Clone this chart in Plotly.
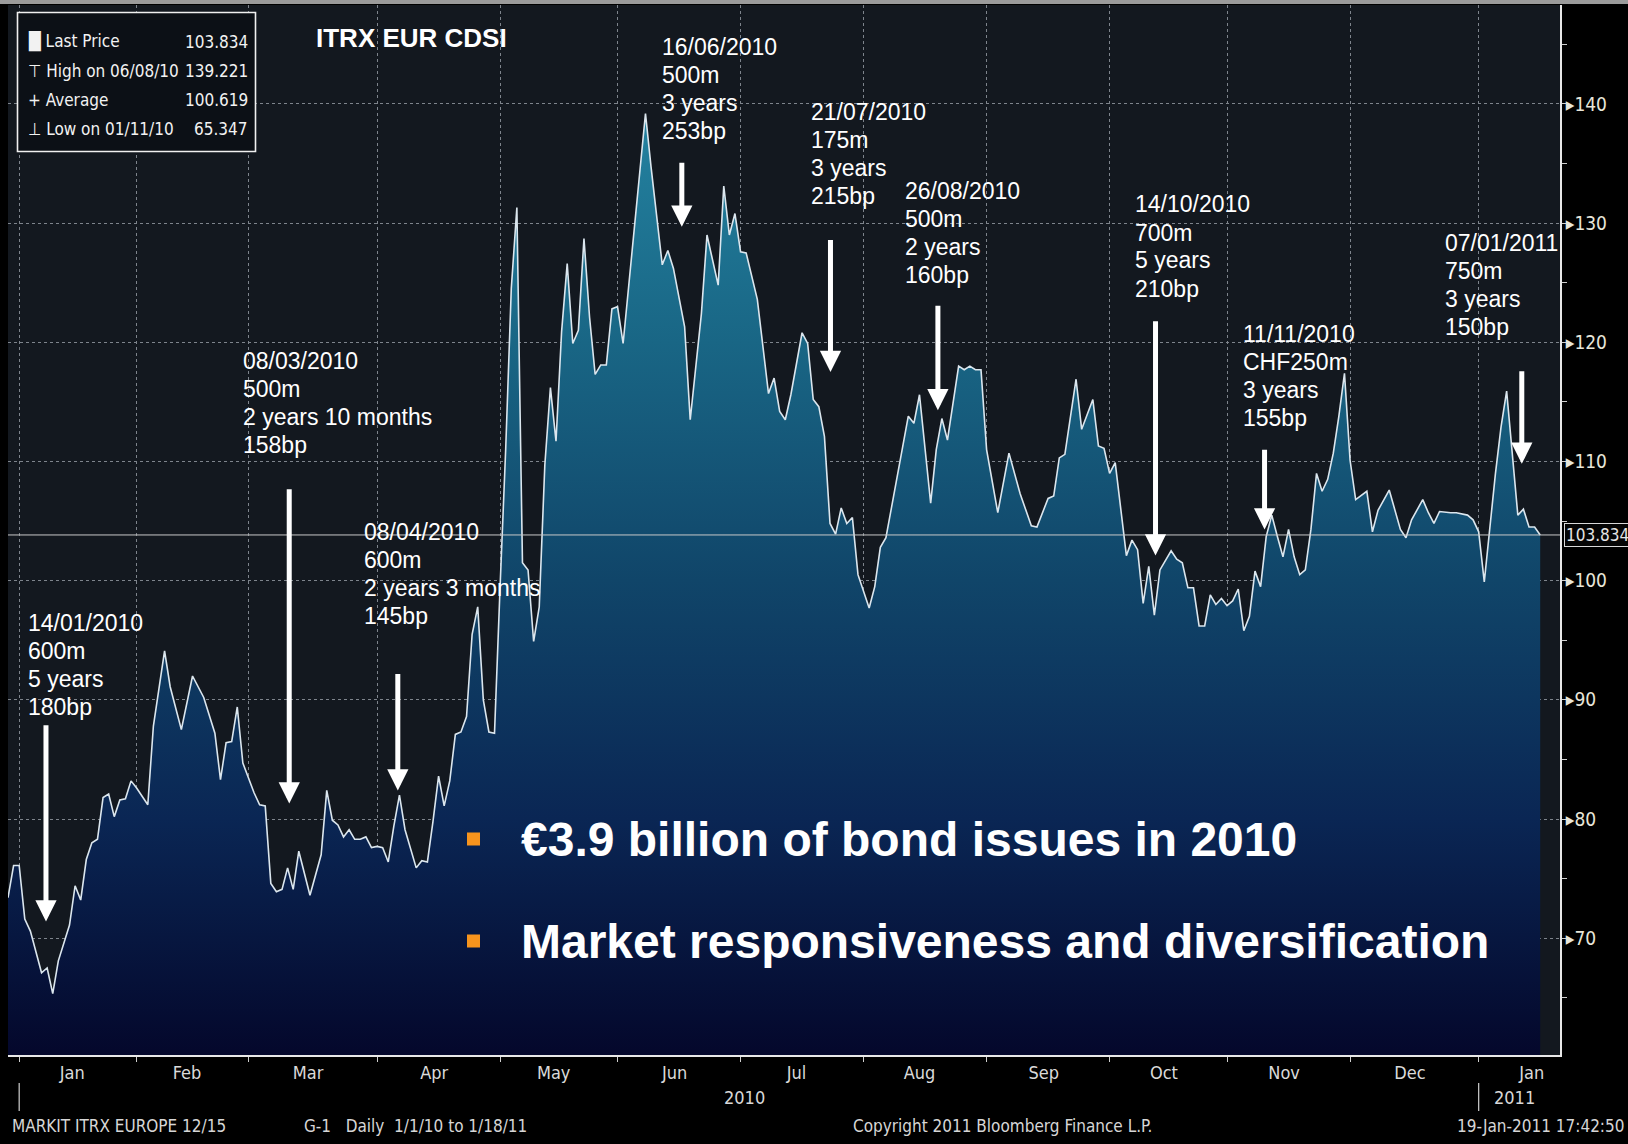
import plotly.graph_objects as go

# ---------------- data ----------------
dates = [
    "2009-12-30", "2009-12-31", "2010-01-01", "2010-01-04", "2010-01-05", "2010-01-07", "2010-01-08",
    "2010-01-11", "2010-01-12", "2010-01-14", "2010-01-15", "2010-01-18", "2010-01-19", "2010-01-20",
    "2010-01-21", "2010-01-22", "2010-01-25", "2010-01-26", "2010-01-27", "2010-01-28", "2010-01-29",
    "2010-02-01", "2010-02-03", "2010-02-04", "2010-02-08", "2010-02-09", "2010-02-11", "2010-02-15",
    "2010-02-17", "2010-02-19", "2010-02-22", "2010-02-23", "2010-02-24", "2010-02-25", "2010-02-26",
    "2010-03-02", "2010-03-03", "2010-03-04", "2010-03-05", "2010-03-08", "2010-03-09", "2010-03-10",
    "2010-03-11", "2010-03-12", "2010-03-16", "2010-03-18", "2010-03-19", "2010-03-22", "2010-03-23",
    "2010-03-24", "2010-03-25", "2010-03-26", "2010-03-29", "2010-03-30", "2010-03-31", "2010-04-01",
    "2010-04-02", "2010-04-05", "2010-04-06", "2010-04-07", "2010-04-08", "2010-04-09", "2010-04-12",
    "2010-04-13", "2010-04-14", "2010-04-15", "2010-04-16", "2010-04-19", "2010-04-20", "2010-04-21",
    "2010-04-22", "2010-04-23", "2010-04-26", "2010-04-27", "2010-04-28", "2010-04-29", "2010-04-30",
    "2010-05-03", "2010-05-04", "2010-05-05", "2010-05-06", "2010-05-07", "2010-05-10", "2010-05-11",
    "2010-05-12", "2010-05-13", "2010-05-14", "2010-05-17", "2010-05-18", "2010-05-19", "2010-05-20",
    "2010-05-21", "2010-05-24", "2010-05-25", "2010-05-26", "2010-05-27", "2010-05-28", "2010-05-31",
    "2010-06-01", "2010-06-02", "2010-06-04", "2010-06-08", "2010-06-09", "2010-06-10", "2010-06-11",
    "2010-06-14", "2010-06-15", "2010-06-17", "2010-06-18", "2010-06-22", "2010-06-23", "2010-06-25",
    "2010-06-28", "2010-06-29", "2010-06-30", "2010-07-01", "2010-07-02", "2010-07-06", "2010-07-08",
    "2010-07-09", "2010-07-12", "2010-07-13", "2010-07-14", "2010-07-16", "2010-07-19", "2010-07-20",
    "2010-07-21", "2010-07-22", "2010-07-23", "2010-07-26", "2010-07-27", "2010-07-28", "2010-07-29",
    "2010-07-30", "2010-08-03", "2010-08-04", "2010-08-05", "2010-08-06", "2010-08-11", "2010-08-12",
    "2010-08-13", "2010-08-16", "2010-08-18", "2010-08-19", "2010-08-20", "2010-08-23", "2010-08-25",
    "2010-08-26", "2010-08-27", "2010-08-30", "2010-08-31", "2010-09-01", "2010-09-03", "2010-09-07",
    "2010-09-09", "2010-09-13", "2010-09-14", "2010-09-16", "2010-09-17", "2010-09-20", "2010-09-21",
    "2010-09-23", "2010-09-24", "2010-09-28", "2010-09-29", "2010-09-30", "2010-10-01", "2010-10-04",
    "2010-10-06", "2010-10-07", "2010-10-08", "2010-10-11", "2010-10-12", "2010-10-13", "2010-10-14",
    "2010-10-18", "2010-10-19", "2010-10-20", "2010-10-21", "2010-10-22", "2010-10-25", "2010-10-26",
    "2010-10-27", "2010-10-28", "2010-10-29", "2010-11-01", "2010-11-02", "2010-11-03", "2010-11-04",
    "2010-11-05", "2010-11-08", "2010-11-09", "2010-11-10", "2010-11-11", "2010-11-12", "2010-11-15",
    "2010-11-16", "2010-11-17", "2010-11-18", "2010-11-19", "2010-11-22", "2010-11-23", "2010-11-24",
    "2010-11-25", "2010-11-26", "2010-11-29", "2010-11-30", "2010-12-01", "2010-12-02", "2010-12-06",
    "2010-12-07", "2010-12-08", "2010-12-10", "2010-12-14", "2010-12-15", "2010-12-16", "2010-12-20",
    "2010-12-21", "2010-12-22", "2010-12-23", "2010-12-27", "2010-12-28", "2010-12-30", "2010-12-31",
    "2011-01-03", "2011-01-04", "2011-01-06", "2011-01-07", "2011-01-10", "2011-01-11", "2011-01-12",
    "2011-01-13", "2011-01-14", "2011-01-17", "2011-01-18",
]
values = [
    73.4, 76.1, 76.1, 71.6, 70.6, 67.1, 67.5,
    65.35, 68.1, 71.1, 74.4, 73.2, 76.6, 78.0,
    78.3, 81.8, 82.1, 80.2, 81.6, 81.7, 83.2,
    82.6, 81.2, 87.8, 94.1, 91.1, 87.5, 92.0,
    90.2, 87.2, 83.3, 86.4, 86.5, 89.4, 84.7,
    82.2, 81.2, 81.1, 74.6, 73.9, 74.1, 75.9,
    74.1, 77.3, 73.6, 77.0, 82.4, 79.9, 79.5,
    78.5, 79.1, 78.3, 78.3, 78.5, 77.6, 77.7,
    77.6, 76.4, 79.4, 82.0, 79.1, 77.6, 75.9,
    76.5, 76.4, 79.8, 83.6, 81.1, 83.2, 87.1,
    87.3, 88.6, 95.5, 97.8, 90.0, 87.3, 87.2,
    99.5, 111.0, 124.5, 131.3, 101.5, 100.9, 94.9,
    97.8, 109.7, 116.2, 111.7, 120.9, 126.6, 119.9,
    121.0, 128.7, 122.1, 117.3, 118.1, 118.1, 122.8,
    123.0, 119.9, 129.5, 139.2, 134.7, 130.8, 126.5,
    127.7, 126.2, 121.3, 113.5, 122.4, 129.0, 124.8,
    133.1, 129.0, 130.8, 127.6, 127.5, 123.6, 115.7,
    117.0, 114.2, 113.5, 115.6, 120.8, 119.9, 115.2,
    114.6, 112.1, 104.8, 103.9, 106.1, 104.8, 105.3,
    100.5, 97.7, 99.5, 102.8, 103.6, 111.5, 113.8,
    113.2, 115.6, 106.5, 111.0, 113.6, 111.8, 118.0,
    117.7, 118.0, 117.7, 117.7, 111.0, 105.7, 110.7,
    107.3, 104.6, 104.5, 106.9, 107.1, 110.3, 110.6,
    116.9, 112.7, 115.2, 111.3, 111.1, 109.0, 109.9,
    102.1, 103.4, 102.6, 98.1, 101.2, 97.1, 100.9,
    102.5, 101.8, 101.5, 99.4, 99.4, 96.2, 96.2,
    98.8, 98.0, 98.5, 97.9, 98.3, 99.3, 95.8,
    97.0, 100.8, 99.5, 103.7, 105.5, 103.7, 102.0,
    104.3, 102.0, 100.5, 100.9, 104.3, 109.0, 107.5,
    108.5, 110.7, 113.8, 117.4, 110.1, 106.8, 107.5,
    104.1, 105.9, 107.6, 104.3, 103.6, 105.1, 106.8,
    105.7, 104.8, 105.8, 105.7, 105.7, 105.5, 105.1,
    104.1, 99.9, 109.0, 112.9, 115.9, 110.7, 105.5,
    106.0, 104.5, 104.5, 103.834,
]

month_starts = ["2010-01-01", "2010-02-01", "2010-03-01", "2010-04-01", "2010-05-03", "2010-06-01",
                "2010-07-01", "2010-08-02", "2010-09-01", "2010-10-01", "2010-11-01", "2010-12-01",
                "2011-01-03"]
month_label_dates = ["2010-01-14 12:00", "2010-02-12", "2010-03-15 16:00", "2010-04-15 05:00",
                     "2010-05-14 14:00", "2010-06-15 05:00", "2010-07-15", "2010-08-16",
                     "2010-09-15 05:00", "2010-10-14 17:00", "2010-11-15 05:00", "2010-12-15 17:00",
                     "2011-01-14 12:00"]
month_labels = ["Jan", "Feb", "Mar", "Apr", "May", "Jun", "Jul", "Aug", "Sep", "Oct", "Nov", "Dec", "Jan"]
year_labels = ["2010", "2011"]
year_label_dates = ["2010-07-01 16:00", "2011-01-11 10:00"]
year_starts = ["2010-01-01", "2011-01-03"]

y_ticks = [70, 80, 90, 100, 110, 120, 130, 140]

legend_labels = ["\u2588 Last Price", "\u22a4 High on 06/08/10", "+ Average", "\u22a5 Low on 01/11/10"]
legend_values = ["103.834", "139.221", "100.619", "65.347"]

issue_texts = [
    ["14/01/2010", "600m", "5 years", "180bp"],
    ["08/03/2010", "500m", "2 years 10 months", "158bp"],
    ["08/04/2010", "600m", "2 years 3 months", "145bp"],
    ["16/06/2010", "500m", "3 years", "253bp"],
    ["21/07/2010", "175m", "3 years", "215bp"],
    ["26/08/2010", "500m", "2 years", "160bp"],
    ["14/10/2010", "700m", "5 years", "210bp"],
    ["11/11/2010", "CHF250m", "3 years", "155bp"],
    ["07/01/2011", "750m", "3 years", "150bp"],
]
arrow_dates = ["2010-01-07 19:00", "2010-03-10 07:00", "2010-04-06 17:00", "2010-06-16 12:00",
               "2010-07-23 02:00", "2010-08-19 07:00", "2010-10-13 05:00", "2010-11-09 17:00",
               "2011-01-12 17:00"]
arrow_tail = [88.0, 107.8, 92.3, 135.2, 128.7, 123.2, 121.9, 111.1, 117.7]
arrow_head = [71.4, 81.3, 82.4, 129.7, 117.5, 114.3, 102.1, 104.3, 109.8]

bullets = ["\u20ac3.9 billion of bond issues in 2010", "Market responsiveness and diversification"]
title_text = "ITRX EUR CDSI"
footer_left = "MARKIT ITRX EUROPE 12/15"
footer_mid = "G-1   Daily  1/1/10 to 1/18/11"
footer_copy = "Copyright 2011 Bloomberg Finance L.P."
footer_right = "19-Jan-2011 17:42:50"

# ---------------- layout geometry ----------------
W, H = 1628, 1144
L, T, R, B = 8, 5, 68, 89
PW, PH = W - L - R, H - T - B


def px(x):
    return (x - L) / PW


def py(y):
    return (T + PH - y) / PH


NARROW = "Liberation Sans Narrow, DejaVu Sans Condensed, Arial Narrow, sans-serif"
ARIAL = "Liberation Sans, Arial, sans-serif"

fig = go.Figure()
fig.add_trace(go.Scatter(
    x=dates, y=values, mode="lines",
    line=dict(color="#dbe6ee", width=1.6),
    fill="tozeroy",
    fillgradient=dict(type="vertical", start=60, stop=140,
                      colorscale=[[0.0, "#04072b"], [0.25, "#0a2654"], [0.5, "#104569"],
                                  [0.75, "#196685"], [1.0, "#2483a1"]]),
    hoverinfo="skip", showlegend=False,
))

annotations = []
shapes = []

# title
annotations.append(dict(x=px(314), y=py(38), xref="paper", yref="paper", xanchor="left", yanchor="middle",
                        text="<b>" + title_text + "</b>", showarrow=False,
                        font=dict(family=ARIAL, size=26, color="white")))

# legend box
shapes.append(dict(type="rect", xref="paper", yref="paper", x0=px(17.5), x1=px(255.5), y0=py(151.5), y1=py(12.5),
                   fillcolor="#0c1016", line=dict(color="#f0f0f0", width=1.6), layer="above"))
for i, (lab, val) in enumerate(zip(legend_labels, legend_values)):
    yy = py(41.5 + 29.1 * i)
    annotations.append(dict(x=px(26), y=yy, xref="paper", yref="paper", xanchor="left", yanchor="middle",
                            text=lab, showarrow=False, font=dict(family=NARROW, size=17, color="#f2f2f2")))
    annotations.append(dict(x=px(250), y=yy, xref="paper", yref="paper", xanchor="right", yanchor="middle",
                            text=val, showarrow=False, font=dict(family=NARROW, size=17, color="#f2f2f2")))

# issue text blocks
block_pos = [(26, 623), (241, 361), (362, 532), (660, 47), (809, 112), (903, 191), (1133, 204.5),
             (1241, 334), (1443, 243)]
for lines, (bx, by) in zip(issue_texts, block_pos):
    for i, ln in enumerate(lines):
        annotations.append(dict(x=px(bx), y=py(by + 28 * i), xref="paper", yref="paper", xanchor="left",
                                yanchor="middle", text=ln, showarrow=False,
                                font=dict(family=ARIAL, size=23, color="white")))

# arrows
for d, yt, yh in zip(arrow_dates, arrow_tail, arrow_head):
    annotations.append(dict(x=d, y=yh, xref="x", yref="y", ax=d, ay=yt, axref="x", ayref="y",
                            text="", showarrow=True, arrowhead=2, arrowsize=0.85, arrowwidth=5,
                            arrowcolor="white", standoff=0))

# bullets
for txt, yc in zip(bullets, [839, 941]):
    shapes.append(dict(type="rect", xref="paper", yref="paper", x0=px(467), x1=px(480),
                       y0=py(yc + 6.5), y1=py(yc - 6.5), fillcolor="#f7941d", line=dict(width=0), layer="above"))
    annotations.append(dict(x=px(519), y=py(yc), xref="paper", yref="paper", xanchor="left", yanchor="middle",
                            text="<b>" + txt + "</b>", showarrow=False,
                            font=dict(family=ARIAL, size=48, color="white")))

# last price line + label
shapes.append(dict(type="line", xref="paper", yref="y", x0=0, x1=1, y0=values[-1], y1=values[-1],
                   line=dict(color="#c9c9c9", width=1), layer="above"))
annotations.append(dict(x=1, y=values[-1], xref="paper", yref="y", xanchor="left", yanchor="middle", xshift=4,
                        text=f"{values[-1]:.3f}", showarrow=False, bgcolor="#050505", bordercolor="#d8d8d8",
                        borderwidth=1, borderpad=1, font=dict(family=NARROW, size=17, color="#e6e6e6")))

# year labels / separators
for t, d in zip(year_labels, year_label_dates):
    annotations.append(dict(x=d, y=py(1097), xref="x", yref="paper", xanchor="center", yanchor="middle",
                            text=t, showarrow=False, font=dict(family=NARROW, size=18, color="#d8d8d8")))
for d in year_starts:
    shapes.append(dict(type="line", xref="x", yref="paper", x0=d, x1=d, y0=py(1083), y1=py(1111),
                       line=dict(color="#d0d0d0", width=1.2)))

# footer
for txt, x, anc in [(footer_left, 10, "left"), (footer_mid, 302, "left"), (footer_copy, 851, "left"),
                    (footer_right, 1626, "right")]:
    annotations.append(dict(x=px(x), y=py(1126), xref="paper", yref="paper", xanchor=anc, yanchor="middle",
                            text=txt, showarrow=False, font=dict(family=NARROW, size=17, color="#d6d6d6")))

# top grey band
shapes.append(dict(type="rect", xref="paper", yref="paper", x0=px(0), x1=px(W), y0=py(4), y1=py(0),
                   fillcolor="#9b9b9b", line=dict(width=0)))

fig.update_layout(
    width=W, height=H,
    margin=dict(l=L, r=R, t=T, b=B),
    paper_bgcolor="#000000", plot_bgcolor="#13181f",
    showlegend=False, hovermode=False,
    annotations=annotations, shapes=shapes,
    xaxis=dict(
        type="date",
        rangebreaks=[dict(bounds=["sat", "mon"])],
        range=["2009-12-30", "2011-01-21 13:00"],
        tickmode="array", tickvals=month_label_dates, ticktext=month_labels,
        ticks="", showgrid=False, zeroline=False,
        tickfont=dict(family=NARROW, size=18, color="#dadada"),
        showline=True, linecolor="#e8e8e8", linewidth=2,
        minor=dict(tickmode="array", tickvals=month_starts, showgrid=True, gridcolor="#7e848c",
                   griddash="dot", gridwidth=1, ticks="outside", ticklen=5, tickcolor="#cfcfcf"),
    ),
    yaxis=dict(
        side="right", range=[60.2, 148.3],
        tickmode="array", tickvals=y_ticks, ticktext=["\u25b8" + str(v) for v in y_ticks],
        ticks="", ticklabelstandoff=0,
        tickfont=dict(family=NARROW, size=19, color="#e8e6da"),
        showgrid=True, gridcolor="#7e848c", griddash="dot", gridwidth=1, zeroline=False,
        showline=True, linecolor="#e8e8e8", linewidth=2,
        minor=dict(dtick=5, tick0=0, ticks="outside", ticklen=5, tickcolor="#cfcfcf", showgrid=False),
    ),
)

fig.write_html("out.html")
